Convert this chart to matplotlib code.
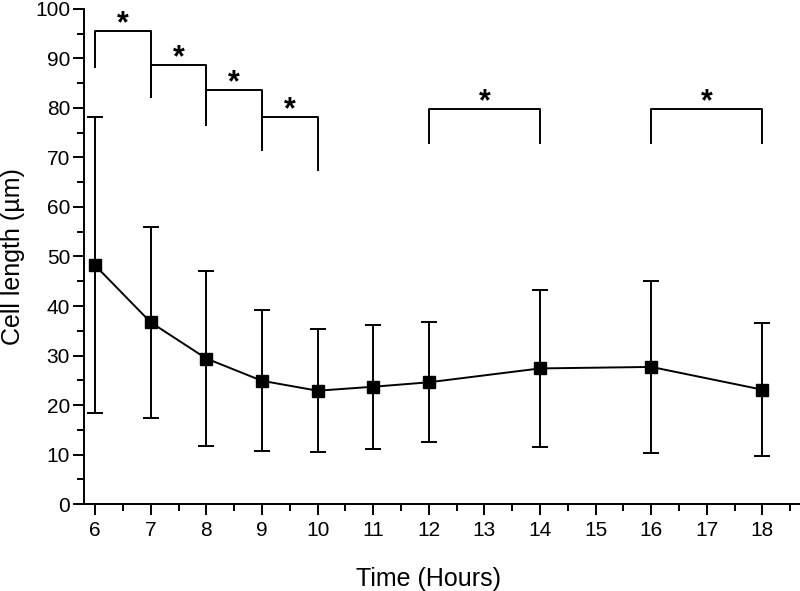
import matplotlib.pyplot as plt

plt.rcParams['font.family'] = ['Liberation Sans', 'DejaVu Sans']

hours = [6, 7, 8, 9, 10, 11, 12, 14, 16, 18]
length = [48.2, 36.7, 29.4, 24.9, 22.9, 23.7, 24.6, 27.4, 27.7, 23.1]
sd = [29.9, 19.3, 17.6, 14.2, 12.4, 12.5, 12.1, 15.8, 17.3, 13.4]

# significance brackets: (x_left, x_right, top, left leg bottom, right leg bottom)
brackets = [
    (6, 7, 95.5, 88.2, 82.2),
    (7, 8, 88.6, 82.2, 76.6),
    (8, 9, 83.6, 76.6, 71.5),
    (9, 10, 78.1, 71.5, 67.5),
    (12, 14, 79.8, 72.9, 72.9),
    (16, 18, 79.8, 72.9, 72.9),
]

fig = plt.figure(figsize=(8, 5.91), dpi=100)
ax = fig.add_axes([0.105, 0.147, 0.894, 0.838])

ax.errorbar(hours, length, yerr=sd, color='black', marker='s', markersize=8.5,
            linewidth=1.4, elinewidth=1.4, capsize=6, capthick=1.4)

for x0, x1, top, b0, b1 in brackets:
    ax.plot([x0, x0, x1, x1], [b0, top, top, b1], color='black', linewidth=1.4,
            clip_on=False)
    ax.text((x0 + x1) / 2, top - 1.6, '*', ha='center', va='bottom',
            fontsize=22, fontweight='bold')

ax.set_xlim(5.8, 18.66)
ax.set_ylim(0, 100)
ax.set_xticks(range(6, 19))
ax.set_xticks([x + 0.5 for x in range(6, 19)], minor=True)
ax.set_yticks(range(0, 101, 10))
ax.set_yticks(range(5, 100, 10), minor=True)

for s in ['top', 'right']:
    ax.spines[s].set_visible(False)
for s in ['left', 'bottom']:
    ax.spines[s].set_linewidth(1.4)

ax.tick_params(which='major', length=8, width=1.4, labelsize=15, direction='out')
ax.tick_params(which='minor', length=5, width=1.4, direction='out')
ax.tick_params(axis='y', which='major', pad=2)
ax.tick_params(axis='x', which='major', pad=4)

ax.set_xlabel('Time (Hours)', fontsize=18)
ax.set_ylabel('Cell length (µm)', fontsize=18)
ax.xaxis.set_label_coords(0.482, -0.127)
ax.yaxis.set_label_coords(-0.083, 0.5)

fig.savefig('out.png', dpi=100)
